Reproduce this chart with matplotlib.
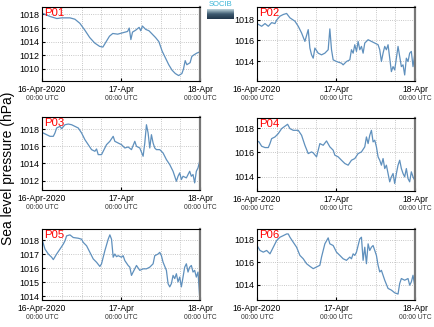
#!/usr/bin/env python
# coding=utf8

"""
Sea level pressure at six points (P01-P06), 16-Apr-2020 to 18-Apr-2020.
"""

import matplotlib
matplotlib.use("Agg")
import matplotlib.pyplot as plt
import matplotlib.dates as mdates
import matplotlib.transforms as mtransforms
import numpy as np
import pandas as pd

# hours after 16-Apr-2020 00:00 UTC and pressure (hPa)
p01_hours = [0, 2.5, 4.5, 6, 8.5, 10, 11.5, 13, 14.5, 16, 17.5, 18.5, 19.5, 20.5, 21.5, 23,
             24.5, 26, 26.5, 27, 27.5, 28.5, 29.5, 30, 30.5, 31.5, 32.5, 33.5, 34.5, 35.5,
             36.5, 37.5, 38.5, 39.5, 40.5, 41.5, 42.5, 43, 43.5, 44, 45, 45.5, 46, 47, 48]
p01_vals = [1018.2, 1017.7, 1017.4, 1017.5, 1017.5, 1017.3, 1016.7, 1015.7, 1014.6, 1013.8,
            1013.3, 1013.2, 1014.0, 1014.8, 1015.2, 1015.1, 1015.3, 1015.5, 1016.0, 1014.3,
            1015.4, 1015.7, 1016.1, 1015.6, 1016.3, 1015.8, 1015.6, 1015.1, 1014.6, 1014.0,
            1012.6, 1011.6, 1010.6, 1009.8, 1009.3, 1009.0, 1009.3, 1010.0, 1011.2, 1010.6,
            1010.9, 1011.8, 1012.0, 1012.3, 1012.5]

p02_x = [126, 140, 150, 160, 170, 180, 185, 195, 205, 215, 225, 240, 250, 260, 270, 280, 285,
         290, 295, 300, 310, 320, 330, 340, 345, 350, 355, 365, 380, 385, 395, 405, 410, 415,
         420, 425, 430, 435, 440, 445, 450, 460, 470, 480, 490, 495, 500, 505, 510, 515, 520,
         525, 530, 535, 540, 545, 550, 555, 560, 565, 570, 575, 580, 585, 590, 595, 600]
p02_vals = [1017.61, 1017.35, 1017.61, 1017.35, 1017.7, 1017.61, 1017.94, 1018.32, 1018.48,
            1018.58, 1018.16, 1017.84, 1017.35, 1016.71, 1015.9, 1017.03, 1015.26, 1014.61,
            1014.29, 1015.26, 1014.77, 1014.61, 1014.77, 1015.1, 1017.1, 1015.1, 1014.13,
            1013.97, 1013.81, 1013.65, 1013.97, 1014.13, 1015.1, 1014.77, 1015.58, 1014.94,
            1015.9, 1015.1, 1015.42, 1014.77, 1015.74, 1016.06, 1015.9, 1015.74, 1015.58,
            1015.1, 1013.97, 1014.77, 1015.42, 1015.1, 1015.58, 1014.29, 1013.0, 1013.48,
            1013.16, 1014.29, 1015.42, 1014.45, 1013.48, 1013.65, 1012.68, 1014.29, 1013.97,
            1014.77, 1014.94, 1013.48, 1014.61]

p03_x = [126, 140, 150, 160, 165, 170, 180, 185, 195, 205, 215, 225, 235, 245, 255, 265, 275,
         285, 290, 295, 305, 310, 320, 330, 340, 345, 355, 365, 375, 385, 395, 405, 410, 420,
         430, 435, 440, 445, 450, 455, 460, 465, 470, 480, 490, 500, 510, 520, 530, 535, 540,
         545, 550, 560, 570, 575, 580, 585, 590, 595, 600]
p03_vals = [1017.61, 1017.34, 1017.15, 1017.15, 1017.54, 1018.12, 1018.31, 1018.04, 1018.5,
            1018.58, 1018.5, 1018.31, 1018.12, 1017.54, 1016.76, 1016.18, 1015.6, 1015.41,
            1015.68, 1015.02, 1015.02, 1015.41, 1016.18, 1016.57, 1017.15, 1016.57, 1016.37,
            1016.18, 1015.79, 1015.91, 1015.6, 1016.57, 1015.99, 1015.79, 1014.83, 1016.37,
            1018.5, 1017.54, 1015.79, 1017.34, 1016.37, 1015.79, 1015.6, 1015.6, 1015.21,
            1014.44, 1013.86, 1013.08, 1011.92, 1012.5, 1012.89, 1012.12, 1012.5, 1012.31,
            1013.08, 1012.5, 1012.7, 1011.73, 1013.08, 1013.47, 1014.24]

p04_x = [126, 132, 140, 150, 160, 165, 170, 180, 190, 200, 210, 218, 225, 235, 250, 260, 270,
         280, 290, 295, 305, 315, 325, 335, 345, 355, 360, 370, 380, 390, 400, 410, 420, 430,
         440, 450, 455, 460, 465, 470, 475, 480, 485, 490, 495, 500, 505, 510, 515, 520, 525,
         530, 535, 540, 545, 550, 555, 560, 565, 570, 575, 580, 585, 590, 595, 600]
p04_vals = [1016.95, 1016.87, 1016.51, 1016.4, 1016.4, 1016.73, 1017.14, 1017.28, 1017.56,
            1017.97, 1018.17, 1018.33, 1017.97, 1017.83, 1017.83, 1017.42, 1016.59, 1015.9,
            1016.04, 1015.96, 1015.63, 1016.73, 1016.59, 1016.95, 1016.46, 1016.18, 1015.77,
            1015.63, 1015.35, 1015.08, 1014.94, 1015.35, 1015.49, 1015.9, 1016.04, 1016.46,
            1017.28, 1016.73, 1017.42, 1017.83, 1016.87, 1017.01, 1016.46, 1015.63, 1015.35,
            1014.94, 1015.49, 1014.66, 1014.94, 1014.25, 1013.56, 1013.97, 1014.25, 1013.42,
            1014.25, 1014.94, 1015.35, 1014.66, 1014.25, 1013.97, 1014.66, 1013.83, 1013.56,
            1014.39, 1013.97, 1013.7]

p05_x = [126, 135, 145, 155, 160, 170, 180, 190, 195, 200, 210, 220, 235, 245, 250, 260, 270,
         280, 290, 300, 305, 315, 325, 330, 335, 340, 345, 350, 355, 365, 370, 375, 385, 390,
         395, 400, 410, 420, 430, 440, 450, 460, 465, 475, 480, 485, 490, 500, 505, 510, 515,
         520, 525, 530, 535, 540, 545, 550, 555, 560, 565, 570, 575, 580, 585, 590, 595, 600]
p05_vals = [1018.07, 1017.36, 1017.01, 1016.78, 1016.61, 1017.01, 1017.36, 1017.72, 1017.95,
            1018.31, 1018.38, 1018.19, 1018.14, 1018.07, 1017.84, 1017.6, 1017.13, 1016.66,
            1016.42, 1016.12, 1016.31, 1017.25, 1018.07, 1018.38, 1018.07, 1016.78, 1017.01,
            1016.82, 1016.89, 1016.78, 1016.89, 1016.54, 1016.19, 1016.07, 1015.48, 1015.72,
            1016.19, 1015.84, 1015.95, 1015.95, 1016.07, 1016.31, 1016.89, 1017.01, 1017.13,
            1016.89, 1016.42, 1015.84, 1014.89, 1014.66, 1014.89, 1015.48, 1015.25, 1015.6,
            1015.01, 1015.36, 1014.66, 1015.36, 1016.07, 1016.31, 1015.72, 1016.07, 1016.19,
            1015.72, 1015.84, 1015.36, 1015.72, 1013.95]

p06_x = [126, 135, 145, 155, 165, 175, 185, 195, 205, 215, 220, 225, 235, 245, 255, 265, 275,
         285, 295, 305, 315, 320, 330, 340, 345, 355, 365, 375, 385, 395, 405, 410, 415, 420,
         425, 435, 440, 445, 450, 455, 460, 465, 470, 475, 480, 485, 490, 495, 500, 510, 520,
         530, 540, 550, 555, 560, 570, 580, 585, 590, 595, 600]
p06_vals = [1017.5, 1017.06, 1016.91, 1017.06, 1016.76, 1017.35, 1017.94, 1018.24, 1018.38,
            1018.53, 1018.53, 1018.24, 1017.79, 1017.35, 1016.62, 1016.32, 1015.88, 1015.65,
            1015.44, 1015.59, 1015.74, 1016.47, 1017.65, 1018.18, 1017.65, 1017.5, 1016.91,
            1016.62, 1016.32, 1016.18, 1016.47, 1016.32, 1016.76, 1016.62, 1016.91, 1018.09,
            1018.24, 1016.18, 1017.35, 1015.88, 1017.65, 1017.06, 1017.35, 1017.5, 1017.06,
            1016.62, 1015.74, 1015.15, 1015.29, 1014.41, 1013.68, 1013.53, 1013.29, 1013.18,
            1014.12, 1014.56, 1014.41, 1014.56, 1013.97, 1014.26, 1014.85, 1013.97]

station_names = ["P01", "P02", "P03", "P04", "P05", "P06"]
y_limits = [(1008.2, 1019.1), (1012.1, 1019.2), (1010.9, 1019.4),
            (1012.8, 1018.85), (1013.72, 1018.8), (1012.65, 1018.97)]
y_ticks = [[1010, 1012, 1014, 1016, 1018], [1014, 1016, 1018], [1012, 1014, 1016, 1018],
           [1014, 1016, 1018], [1014, 1015, 1016, 1017, 1018], [1014, 1016, 1018]]

tick_days = ["2020-04-16", "2020-04-17", "2020-04-18"]
tick_names = ["16-Apr-2020", "17-Apr", "18-Apr"]


def px_to_hours(xs):
    # the P02..P06 series were read in zoomed-pixel columns: 126 -> 0 h, 601 -> 48 h
    return [(x - 126) / (475 / 48.0) for x in xs]


def to_times(hours):
    return pd.Timestamp("2020-04-16") + pd.to_timedelta(np.array(hours), unit="h")


series = [
    (p01_hours, p01_vals),
    (px_to_hours(p02_x), p02_vals),
    (px_to_hours(p03_x), p03_vals),
    (px_to_hours(p04_x), p04_vals),
    (px_to_hours(p05_x), p05_vals),
    (px_to_hours(p06_x), p06_vals),
]

plt.rcParams["font.family"] = ["Liberation Sans", "DejaVu Sans"]

fig = plt.figure(figsize=(4.35, 3.27), dpi=100)

W, H = 435.0, 327.0
# axes boxes in pixels: left, top, right, bottom
boxes = [(42, 7, 200, 81), (257, 7, 415, 81),
         (42, 117, 200, 190), (257, 118, 415, 191),
         (42, 229, 200, 300), (257, 229, 415, 300)]

t0 = pd.Timestamp("2020-04-16")
t1 = pd.Timestamp("2020-04-18")

for i, (hours, vals) in enumerate(series):
    l, t, r, b = boxes[i]
    ax = fig.add_axes([l / W, 1 - b / H, (r - l) / W, (b - t) / H])
    ax.plot(to_times(hours), vals, color="#5f90bd", linewidth=0.9)
    ax.set_xlim(t0, t1)
    ax.set_ylim(*y_limits[i])
    ax.set_yticks(y_ticks[i])
    ax.set_yticklabels([str(v) for v in y_ticks[i]], fontsize=6.5)

    ax.xaxis.set_minor_locator(mdates.HourLocator(byhour=[6, 12, 18]))
    ax.set_xticks([pd.Timestamp(d) for d in tick_days])
    ax.set_xticklabels(tick_names, fontsize=6.2)
    ax.tick_params(axis="x", which="major", pad=3, length=2, direction="in")
    ax.tick_params(axis="x", which="minor", length=0)
    ax.tick_params(axis="y", length=2, direction="in", pad=2)

    ax.grid(True, which="both", color="#b5b5b5", linestyle=":", linewidth=0.6)

    for sp in ["top", "left", "bottom"]:
        ax.spines[sp].set_color("black")
        ax.spines[sp].set_linewidth(0.8)
    ax.spines["right"].set_color("#777777")
    ax.spines["right"].set_linewidth(1.6)

    # second line of the date labels, smaller, 14 px under the axes
    off = mtransforms.ScaledTranslation(0, -0.14, fig.dpi_scale_trans)
    trans = mtransforms.blended_transform_factory(ax.transData, ax.transAxes) + off
    for d in tick_days:
        ax.text(mdates.date2num(pd.Timestamp(d)), 0, "00:00 UTC", transform=trans,
                ha="center", va="top", fontsize=4.9, color="#333333")

    ax.text(0.015, 0.985, station_names[i], transform=ax.transAxes, ha="left", va="top",
            fontsize=8.2, color="red")

fig.text(8 / W, 1 - 168 / H, "Sea level pressure (hPa)", rotation=90, ha="center",
         va="center", fontsize=10)

# small SOCIB logo between the top panels
logo = fig.add_axes([207 / W, 1 - 19 / H, 27 / W, 10 / H])
grad = np.linspace(0, 1, 20).reshape(-1, 1)
logo.imshow(grad, aspect="auto", cmap=matplotlib.colors.LinearSegmentedColormap.from_list(
    "logo", ["#b7cfd8", "#3d5a70", "#22384c"]))
logo.axis("off")
fig.text(220.5 / W, 1 - 4.5 / H, "SOCIB", ha="center", va="center", fontsize=5.5,
         color="#38b4d6")

fig.savefig("out.png", dpi=100)
